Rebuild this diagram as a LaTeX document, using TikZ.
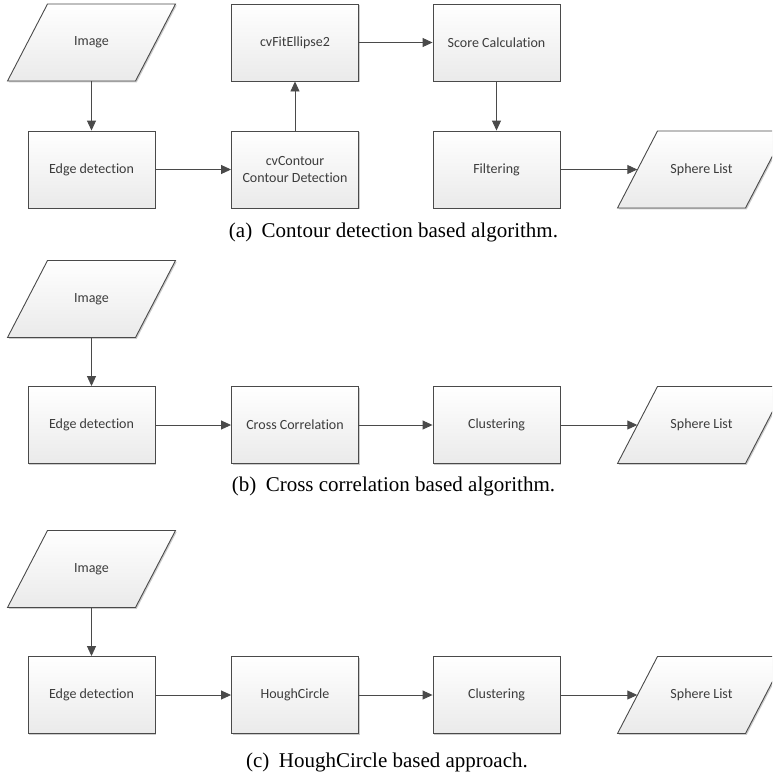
\documentclass[tikz,border=0pt]{standalone}
\usepackage{fontspec}
\setmainfont[Ligatures=NoCommon]{Carlito}
\newfontfamily\capfont{Liberation Serif}
\usetikzlibrary{arrows.meta,shadows}
\definecolor{ln}{HTML}{4A4A4A}
\definecolor{tx}{HTML}{3C3C3C}
\definecolor{shb}{HTML}{EAEAEA}
\newcommand\para[2]{%
  \draw[iofill] (#1-84,#2+38.5) -- (#1+44,#2+38.5) -- (#1+84,#2-38.5) -- (#1-44,#2-38.5) -- cycle;}
\begin{document}
\begin{tikzpicture}[x=1pt,y=-1pt,
  shad/.style={drop shadow={shadow xshift=1.3pt,shadow yshift=-1.3pt,opacity=0.2,fill=black}},
  box/.style={draw=ln,line width=0.9pt,top color=white,bottom color=shb,shad,
    minimum width=127pt,minimum height=77pt,inner sep=0pt,align=center,
    font=\fontsize{14}{17}\selectfont,text=tx},
  iofill/.style={draw=ln,line width=0.9pt,top color=white,bottom color=shb,shad},
  io/.style={minimum width=128pt,minimum height=77pt,inner sep=0pt,align=center,
    font=\fontsize{14}{17}\selectfont,text=tx},
  arr/.style={draw=ln,line width=0.9pt,-{Triangle[length=10pt,width=9pt]}},
  captext/.style={font=\capfont\fontsize{21}{24}\selectfont,anchor=base,text=black}]
\useasboundingbox (0,0) rectangle (772,777);
\clip (0,0) rectangle (772,777);

% ---------- (a) ----------
\para{91.5}{42.5}
\node[io] (img1) at (91.5,42.5) {Image};
\node[box] (ed1) at (91.5,169.5) {Edge detection};
\node[box] (ct1) at (295,169.5) {cvContour\\Contour Detection};
\node[box] (fe1) at (295,42.5) {cvFitEllipse2};
\node[box] (sc1) at (496.5,42.5) {Score Calculation};
\node[box] (fi1) at (496.5,169.5) {Filtering};
\para{701.5}{169.5}
\node[io] (sp1) at (701.5,169.5) {Sphere List};
\draw[arr] (img1.south) -- (ed1.north);
\draw[arr] (ed1.east) -- (ct1.west);
\draw[arr] (ct1.north) -- (fe1.south);
\draw[arr] (fe1.east) -- (sc1.west);
\draw[arr] (sc1.south) -- (fi1.north);
\draw[arr] (fi1.east) -- (sp1.west);
\node[captext] (capa) at (393.5,237) {(a)\hspace{0.45em}Contour detection based algorithm.};

% ---------- (b) ----------
\para{91.5}{299}
\node[io] (img2) at (91.5,299) {Image};
\node[box] (ed2) at (91.5,425) {Edge detection};
\node[box] (cc2) at (295,425) {Cross Correlation};
\node[box] (cl2) at (496.5,425) {Clustering};
\para{701.5}{425}
\node[io] (sp2) at (701.5,425) {Sphere List};
\draw[arr] (img2.south) -- (ed2.north);
\draw[arr] (ed2.east) -- (cc2.west);
\draw[arr] (cc2.east) -- (cl2.west);
\draw[arr] (cl2.east) -- (sp2.west);
\node[captext] (capb) at (393.5,491) {(b)\hspace{0.45em}Cross correlation based algorithm.};

% ---------- (c) ----------
\para{91.5}{569}
\node[io] (img3) at (91.5,569) {Image};
\node[box] (ed3) at (91.5,695) {Edge detection};
\node[box] (hc3) at (295,695) {HoughCircle};
\node[box] (cl3) at (496.5,695) {Clustering};
\para{701.5}{695}
\node[io] (sp3) at (701.5,695) {Sphere List};
\draw[arr] (img3.south) -- (ed3.north);
\draw[arr] (ed3.east) -- (hc3.west);
\draw[arr] (hc3.east) -- (cl3.west);
\draw[arr] (cl3.east) -- (sp3.west);
\node[captext] (capc) at (387,767) {(c)\hspace{0.45em}HoughCircle based approach.};
\end{tikzpicture}
\end{document}
